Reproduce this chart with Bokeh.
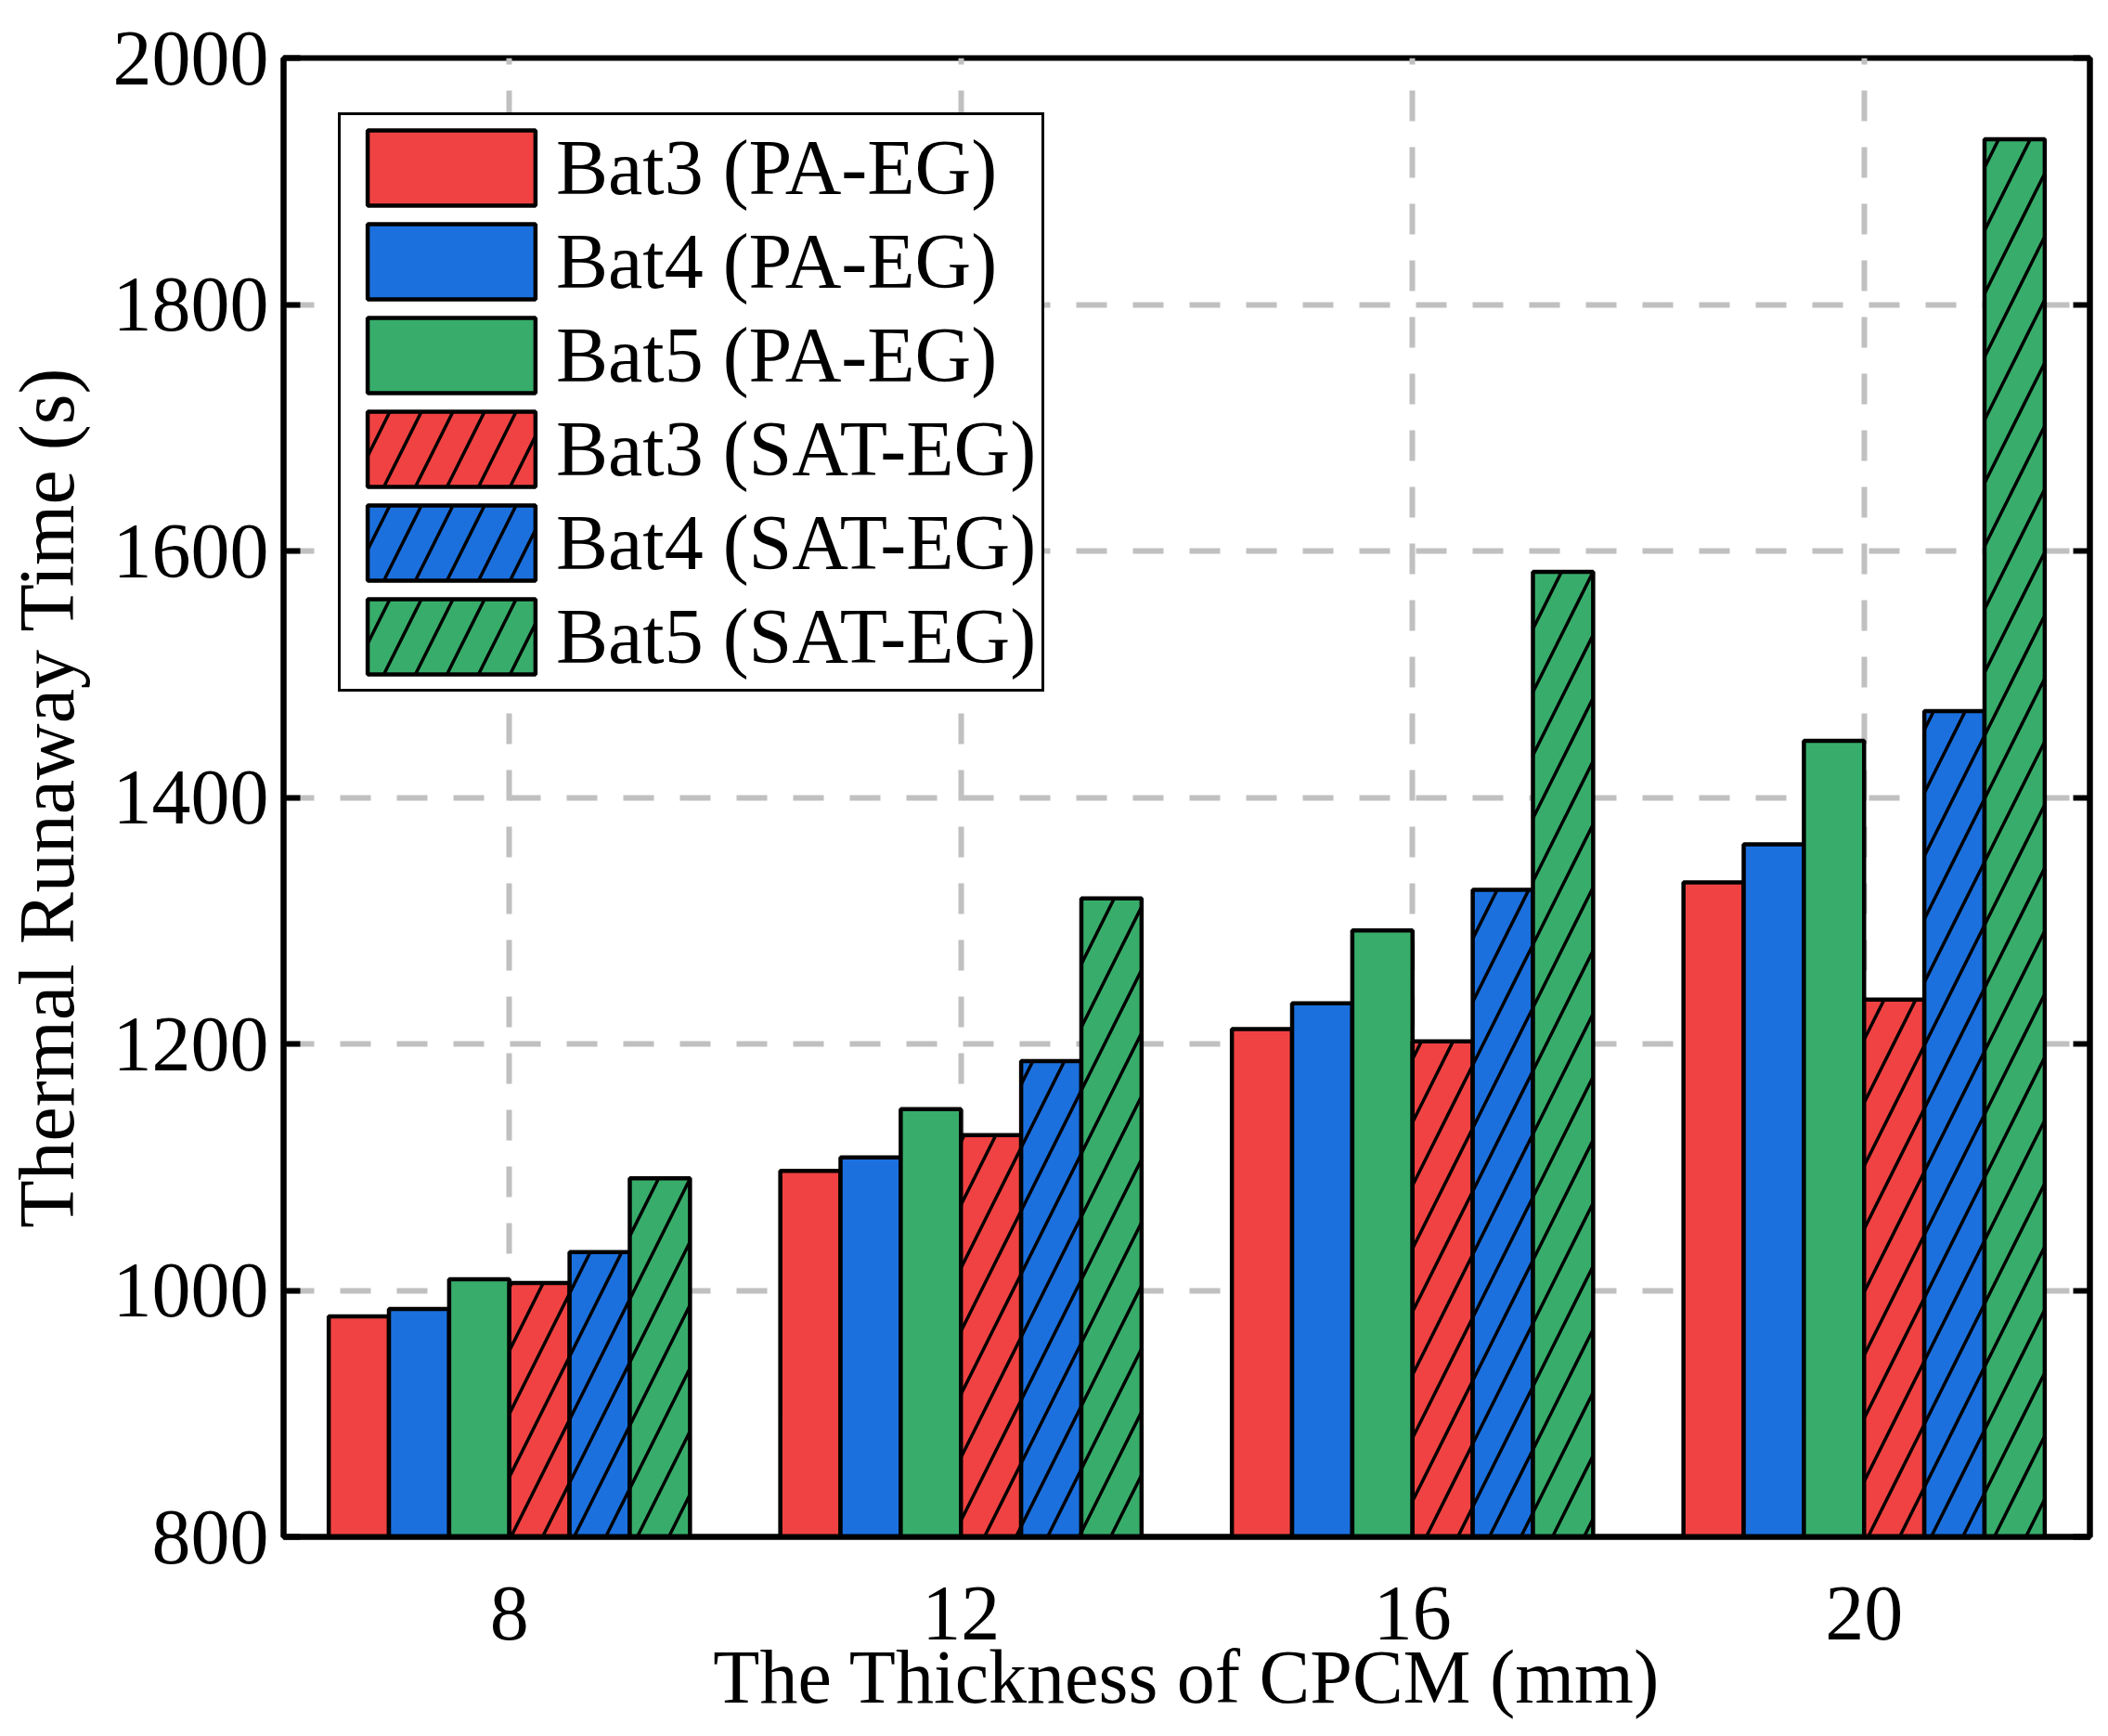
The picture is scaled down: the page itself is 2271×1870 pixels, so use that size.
from bokeh.plotting import figure
from bokeh.models import FixedTicker, LinearAxis, Range1d, Legend, LegendItem
from bokeh.embed import file_html
from bokeh.resources import INLINE
import numpy as np

# ---- data ----
thickness = [8, 12, 16, 20]
series_names = ["Bat3 (PA-EG)", "Bat4 (PA-EG)", "Bat5 (PA-EG)",
                "Bat3 (SAT-EG)", "Bat4 (SAT-EG)", "Bat5 (SAT-EG)"]
bat3_pa = [979, 1097, 1212, 1331]
bat4_pa = [985, 1108, 1233, 1362]
bat5_pa = [1009, 1147, 1292, 1446]
bat3_sat = [1006, 1126, 1202, 1236]
bat4_sat = [1031, 1186, 1325, 1470]
bat5_sat = [1091, 1318, 1583, 1934]
y_ticks = [800, 1000, 1200, 1400, 1600, 1800, 2000]

series_values = [bat3_pa, bat4_pa, bat5_pa, bat3_sat, bat4_sat, bat5_sat]
colors = ["#F04242", "#1B70DE", "#38AD6B", "#F04242", "#1B70DE", "#38AD6B"]
hatches = [None, None, None, "/", "/", "/"]

FONT = "Liberation Serif"
FS = "84px"

p = figure(width=2255, height=1854, output_backend="svg", toolbar_location=None,
           x_range=Range1d(6, 22), y_range=Range1d(800, 2000),
           min_border_left=301, min_border_right=4, min_border_top=62, min_border_bottom=196)

p.outline_line_color = "black"
p.outline_line_width = 6
p.background_fill_color = "white"
p.border_fill_color = "white"

# grid
p.xgrid.ticker = FixedTicker(ticks=thickness)
p.ygrid.ticker = FixedTicker(ticks=y_ticks[1:-1])
for g in (p.xgrid, p.ygrid):
    g.grid_line_color = "#c0c0c0"
    g.grid_line_width = 6
    g.grid_line_dash = "33 28"

# bars
n = len(series_values)
bw = 3.2 / n
renderers = []
for i, (vals, c, h) in enumerate(zip(series_values, colors, hatches)):
    off = -1.6 + bw * (i + 0.5)
    xs = np.array(thickness, dtype=float) + off
    kw = dict(x=xs, top=vals, bottom=800, width=bw, fill_color=c,
              line_color="black", line_width=4.5)
    if h:
        kw.update(hatch_pattern=h, hatch_color="black", hatch_weight=3.5, hatch_scale=68)
    r = p.vbar(**kw)
    renderers.append(r)

# axes
xa = p.xaxis[0]
xa.ticker = FixedTicker(ticks=thickness)
xa.axis_label = "The Thickness of CPCM (mm)"
xa.major_tick_line_color = None
xa.minor_tick_line_color = None
xa.axis_line_width = 6
xa.major_label_standoff = 48
xa.axis_label_standoff = -8

ya = p.yaxis[0]
ya.ticker = FixedTicker(ticks=y_ticks)
ya.axis_label = "Thermal Runaway Time (s)"
ya.major_tick_in = 18
ya.major_tick_out = 0
ya.major_tick_line_width = 6
ya.minor_tick_line_color = None
ya.axis_line_width = 6
ya.major_label_standoff = 16
ya.axis_label_standoff = 22

for ax in (xa, ya):
    ax.major_label_text_font = FONT
    ax.major_label_text_font_size = FS
    ax.major_label_text_color = "black"
    ax.axis_label_text_font = FONT
    ax.axis_label_text_font_size = FS
    ax.axis_label_text_font_style = "normal"
    ax.axis_label_text_color = "black"
    ax.axis_line_color = "black"
xa.axis_label_text_font_size = "82px"

# right axis: inward ticks only, no labels
ra = LinearAxis(ticker=FixedTicker(ticks=y_ticks))
ra.major_tick_in = 18
ra.major_tick_out = 0
ra.major_tick_line_width = 6
ra.minor_tick_line_color = None
ra.axis_line_width = 6
ra.major_label_overrides = {t: "" for t in y_ticks}
ra.major_label_standoff = 0
p.add_layout(ra, "right")

legend = Legend(items=[LegendItem(label=nm, renderers=[r]) for nm, r in zip(series_names, renderers)],
                location=(59, 910))
legend.label_text_font = FONT
legend.label_text_font_size = FS
legend.label_text_color = "black"
legend.glyph_width = 226
legend.glyph_height = 101
legend.label_standoff = 0
legend.padding = 6
legend.spacing = 0
legend.margin = 0
legend.border_line_color = "black"
legend.border_line_alpha = 1
legend.border_line_width = 3
legend.background_fill_color = "white"
legend.background_fill_alpha = 1
p.add_layout(legend, "center")

open("out.html", "w").write(file_html(p, INLINE))
